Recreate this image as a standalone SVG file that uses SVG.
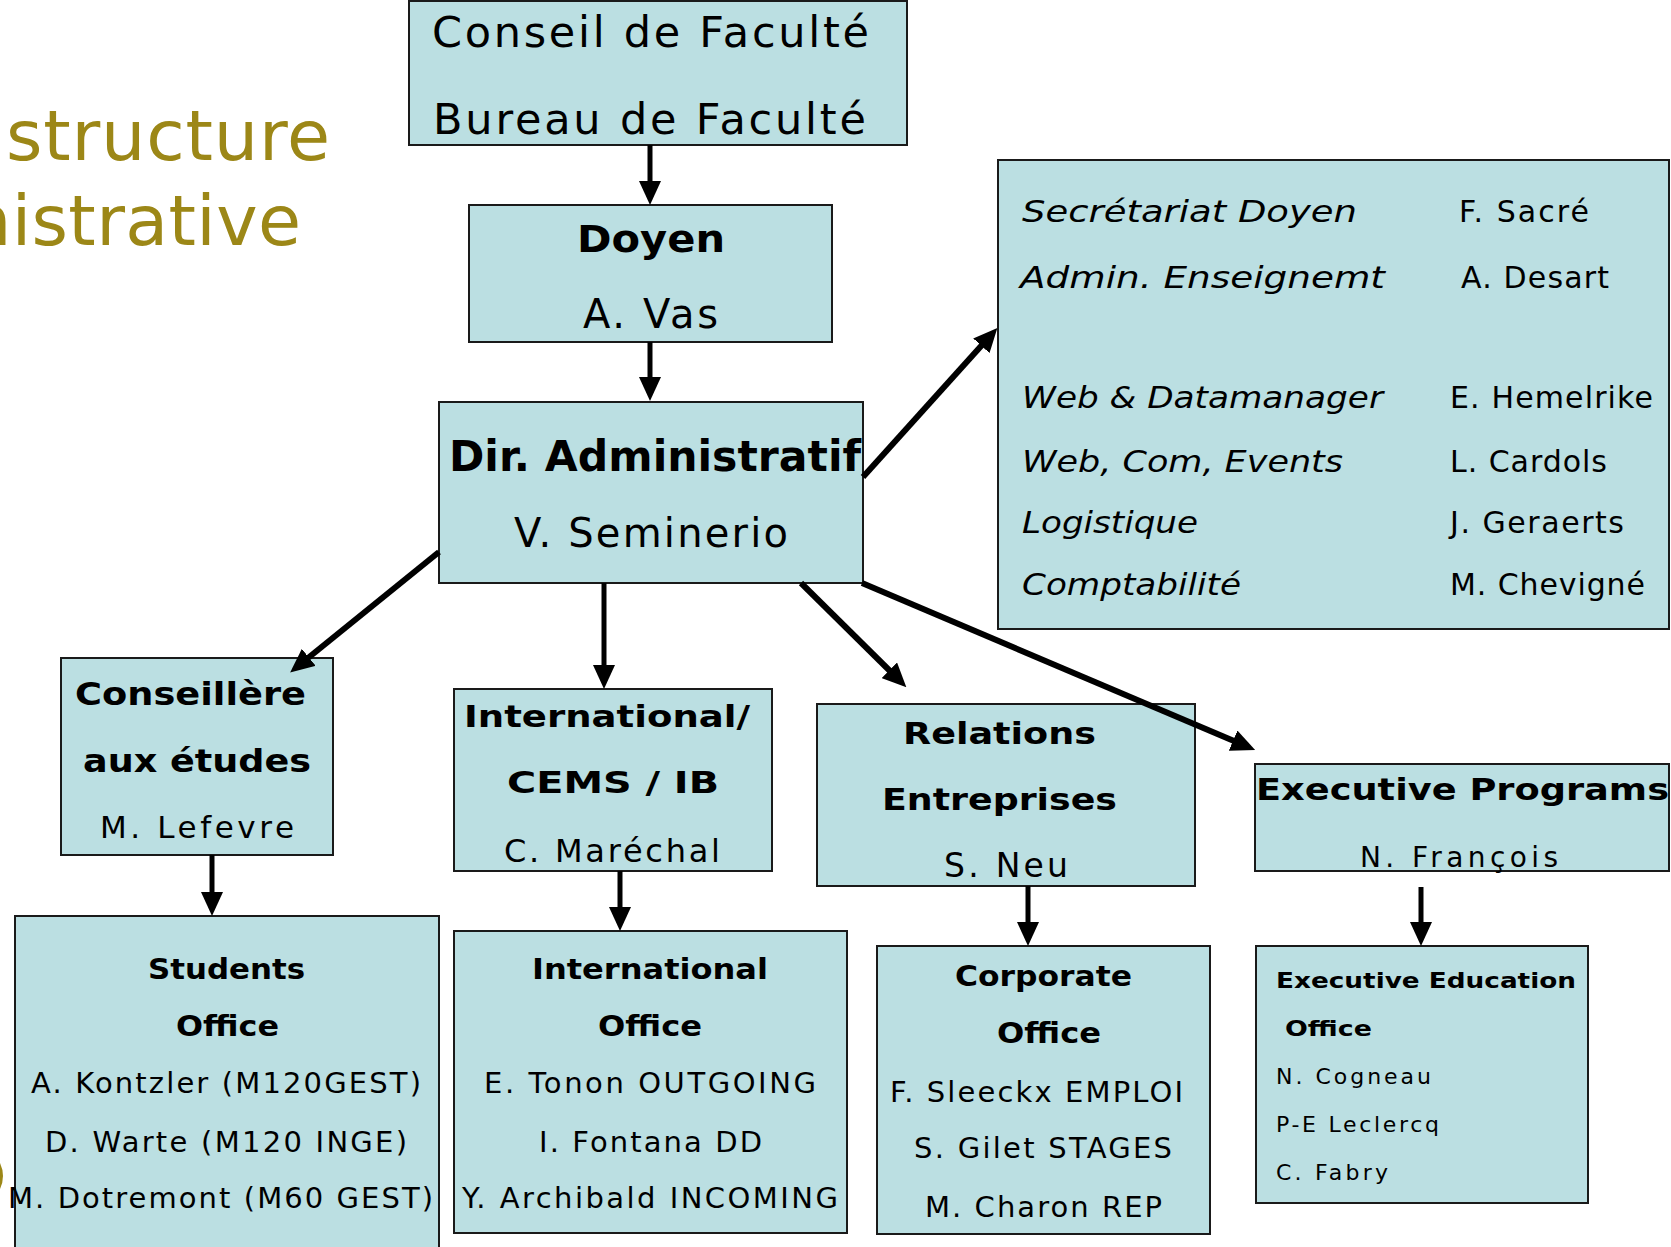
<svg xmlns="http://www.w3.org/2000/svg" width="1671" height="1247" viewBox="0 0 1671 1247">
<defs>
<style>
.box{fill:#BBDFE2;stroke:#1a1a1a;stroke-width:2}
text{font-family:"DejaVu Sans",Verdana,sans-serif;fill:#000}
.b{font-weight:bold}
.i{font-style:italic}
.title{fill:#9C8717}
.c line{stroke:#000;stroke-width:6;marker-end:url(#ah)}
.c line.v{stroke-width:5}
</style>
<marker id="ah" markerUnits="userSpaceOnUse" markerWidth="24" markerHeight="22" refX="1" refY="11" orient="auto" viewBox="0 0 24 22"><path d="M0,0 L24,11 L0,22 z" fill="#000"/></marker>
</defs>
<rect width="1671" height="1247" fill="#fff"/>
<g id="title">
<text class="title" x="6" y="160" font-size="70" textLength="324">structure</text>
<text class="title" x="-33" y="245" font-size="70" textLength="334">nistrative</text>
<path d="M0,1163 Q6,1176 0,1189 Z" fill="#9C8717"/>
</g>
<g id="conseil">
<rect class="box" x="409" y="1" width="498" height="144"/>
<text x="432" y="47" font-size="43" textLength="437">Conseil de Faculté</text>
<text x="433" y="134" font-size="43" textLength="433">Bureau de Faculté</text>
</g>
<g id="doyen">
<rect class="box" x="469" y="205" width="363" height="137"/>
<text class="b" x="577" y="252" font-size="38" textLength="148" lengthAdjust="spacingAndGlyphs">Doyen</text>
<text x="583" y="328" font-size="40" textLength="135">A. Vas</text>
</g>
<g id="dir">
<rect class="box" x="439" y="402" width="424" height="181"/>
<text class="b" x="449" y="471" font-size="42" textLength="412" lengthAdjust="spacingAndGlyphs">Dir. Administratif</text>
<text x="514" y="547" font-size="40" textLength="274">V. Seminerio</text>
</g>
<g id="secretariat">
<rect class="box" x="998" y="160" width="671" height="469"/>
<text class="i" x="1022" y="222" font-size="30" textLength="335" lengthAdjust="spacingAndGlyphs">Secrétariat Doyen</text>
<text class="i" x="1020" y="288" font-size="30" textLength="365" lengthAdjust="spacingAndGlyphs">Admin. Enseignemt</text>
<text class="i" x="1022" y="408" font-size="30" textLength="361" lengthAdjust="spacingAndGlyphs">Web &amp; Datamanager</text>
<text class="i" x="1022" y="472" font-size="30" textLength="321" lengthAdjust="spacingAndGlyphs">Web, Com, Events</text>
<text class="i" x="1022" y="533" font-size="30" textLength="176" lengthAdjust="spacingAndGlyphs">Logistique</text>
<text class="i" x="1022" y="595" font-size="30" textLength="219" lengthAdjust="spacingAndGlyphs">Comptabilité</text>
<text x="1459" y="222" font-size="30" textLength="130">F. Sacré</text>
<text x="1461" y="288" font-size="30" textLength="148">A. Desart</text>
<text x="1450" y="408" font-size="30" textLength="203">E. Hemelrike</text>
<text x="1450" y="472" font-size="30" textLength="157">L. Cardols</text>
<text x="1450" y="533" font-size="30" textLength="174">J. Geraerts</text>
<text x="1450" y="595" font-size="30" textLength="195">M. Chevigné</text>
</g>
<g id="conseillere">
<rect class="box" x="61" y="658" width="272" height="197"/>
<text class="b" x="75" y="705" font-size="32" textLength="231" lengthAdjust="spacingAndGlyphs">Conseillère</text>
<text class="b" x="83" y="772" font-size="32" textLength="228" lengthAdjust="spacingAndGlyphs">aux études</text>
<text x="100" y="838" font-size="31" textLength="194">M. Lefevre</text>
</g>
<g id="international-cems">
<rect class="box" x="454" y="689" width="318" height="182"/>
<text class="b" x="464" y="727" font-size="31" textLength="286" lengthAdjust="spacingAndGlyphs">International/</text>
<text class="b" x="507" y="793" font-size="31" textLength="212" lengthAdjust="spacingAndGlyphs">CEMS / IB</text>
<text x="504" y="862" font-size="32" textLength="216">C. Maréchal</text>
</g>
<g id="relations">
<rect class="box" x="817" y="704" width="378" height="182"/>
<text class="b" x="903" y="744" font-size="31" textLength="193" lengthAdjust="spacingAndGlyphs">Relations</text>
<text class="b" x="882" y="810" font-size="31" textLength="235" lengthAdjust="spacingAndGlyphs">Entreprises</text>
<text x="944" y="877" font-size="33" textLength="124">S. Neu</text>
</g>
<g id="executive-programs">
<rect class="box" x="1255" y="764" width="414" height="107"/>
<text class="b" x="1256" y="800" font-size="30" textLength="413" lengthAdjust="spacingAndGlyphs">Executive Programs</text>
<text x="1360" y="867" font-size="28" textLength="198">N. François</text>
</g>
<g id="students-office">
<rect class="box" x="15" y="916" width="424" height="345"/>
<text class="b" x="148" y="979" font-size="28" textLength="157" lengthAdjust="spacingAndGlyphs">Students</text>
<text class="b" x="176" y="1036" font-size="28" textLength="103" lengthAdjust="spacingAndGlyphs">Office</text>
<text x="31" y="1093" font-size="29" textLength="390">A. Kontzler (M120GEST)</text>
<text x="45" y="1152" font-size="29" textLength="362">D. Warte (M120 INGE)</text>
<text x="8" y="1208" font-size="29" textLength="425">M. Dotremont (M60 GEST)</text>
</g>
<g id="international-office">
<rect class="box" x="454" y="931" width="393" height="302"/>
<text class="b" x="532" y="979" font-size="28" textLength="236" lengthAdjust="spacingAndGlyphs">International</text>
<text class="b" x="598" y="1036" font-size="28" textLength="104" lengthAdjust="spacingAndGlyphs">Office</text>
<text x="484" y="1093" font-size="29" textLength="332">E. Tonon OUTGOING</text>
<text x="539" y="1152" font-size="29" textLength="223">I. Fontana DD</text>
<text x="462" y="1208" font-size="29" textLength="376">Y. Archibald INCOMING</text>
</g>
<g id="corporate-office">
<rect class="box" x="877" y="946" width="333" height="288"/>
<text class="b" x="955" y="986" font-size="28" textLength="177" lengthAdjust="spacingAndGlyphs">Corporate</text>
<text class="b" x="997" y="1043" font-size="28" textLength="104" lengthAdjust="spacingAndGlyphs">Office</text>
<text x="890" y="1102" font-size="29" textLength="293">F. Sleeckx EMPLOI</text>
<text x="914" y="1158" font-size="29" textLength="258">S. Gilet STAGES</text>
<text x="925" y="1217" font-size="29" textLength="237">M. Charon REP</text>
</g>
<g id="executive-education">
<rect class="box" x="1256" y="946" width="332" height="257"/>
<text class="b" x="1276" y="988" font-size="22" textLength="300" lengthAdjust="spacingAndGlyphs">Executive Education</text>
<text class="b" x="1285" y="1036" font-size="22" textLength="87" lengthAdjust="spacingAndGlyphs">Office</text>
<text x="1276" y="1084" font-size="22" textLength="155">N. Cogneau</text>
<text x="1276" y="1132" font-size="22" textLength="163">P-E Leclercq</text>
<text x="1276" y="1180" font-size="22" textLength="112">C. Fabry</text>
</g>
<g id="connectors" class="c">
<line class="v" x1="650" y1="145" x2="650" y2="182"/>
<line class="v" x1="650" y1="342" x2="650" y2="378"/>
<line x1="439" y1="552" x2="308" y2="658"/>
<line class="v" x1="604" y1="583" x2="604" y2="666"/>
<line x1="801" y1="583" x2="890" y2="671"/>
<line x1="862" y1="583" x2="1234" y2="741"/>
<line x1="863" y1="477" x2="982" y2="345"/>
<line class="v" x1="212" y1="855" x2="212" y2="893"/>
<line class="v" x1="620" y1="871" x2="620" y2="908"/>
<line class="v" x1="1028" y1="886" x2="1028" y2="923"/>
<line class="v" x1="1421" y1="887" x2="1421" y2="923"/>
</g>
</svg>
